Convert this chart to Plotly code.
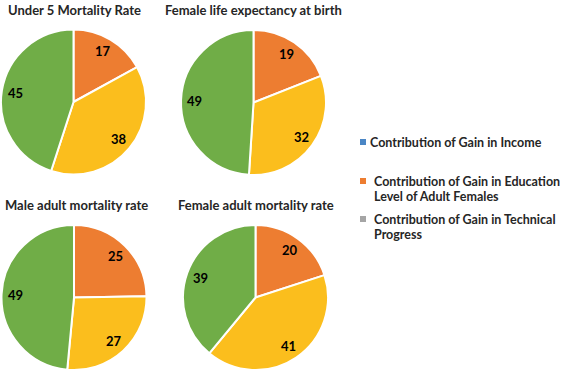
import math
import plotly.graph_objects as go

W, H = 562, 372

titles = ["Under 5 Mortality Rate", "Female life expectancy at birth",
          "Male adult mortality rate", "Female adult mortality rate"]
slice_names = ["Education", "Technical", "Income"]
under5 = [17, 38, 45]
female_life = [19, 32, 49]
male_adult = [25, 27, 49]
female_adult = [20, 41, 39]
series = [under5, female_life, male_adult, female_adult]
slice_colors = ["#ED7D31", "#FBBE1D", "#70AD47"]

legend_labels = ["Contribution of Gain in Income",
                 "Contribution of Gain in Education\nLevel of Adult Females",
                 "Contribution of Gain in Technical\nProgress"]
legend_colors = ["#4A86C5", "#ED7D31", "#A5A5A5"]

FONT = "Lato, 'Open Sans', sans-serif"

# pie boxes in pixels: (x0, x1, ytop, ybottom)
boxes = [(1, 146, 29.5, 174.5), (181, 326, 30, 175), (1.5, 146.5, 225, 370), (183, 328, 225, 370)]
title_pos = [(74, 10), (253, 10), (76, 205), (256, 205)]
LABEL_R = 0.81

fig = go.Figure()
ann = []
for vals, (x0, x1, yt, yb) in zip(series, boxes):
    fig.add_trace(go.Pie(
        labels=slice_names, values=vals, sort=False, direction="clockwise", rotation=0,
        marker=dict(colors=slice_colors, line=dict(color="white", width=2)),
        textinfo="none",
        domain=dict(x=[x0 / W, x1 / W], y=[1 - yb / H, 1 - yt / H]),
        showlegend=False, hoverinfo="label+value",
    ))
    # data labels placed like Excel: along the mid angle of each slice
    cx, cy, r = (x0 + x1) / 2, (yt + yb) / 2, (x1 - x0) / 2
    total = sum(vals)
    cum = 0
    for v in vals:
        mid = (cum + v / 2) / total * 2 * math.pi
        cum += v
        px = cx + LABEL_R * r * math.sin(mid)
        py = cy - LABEL_R * r * math.cos(mid)
        ann.append(dict(text=f"<b>{v}</b>", x=px / W, y=1 - py / H, xref="paper", yref="paper",
                        showarrow=False, xanchor="center", yanchor="middle",
                        font=dict(family=FONT, size=13, color="black")))

for t, (x, y) in zip(titles, title_pos):
    ann.append(dict(text=f"<b>{t}</b>", x=x / W, y=1 - y / H, xref="paper", yref="paper",
                    showarrow=False, xanchor="center", yanchor="middle",
                    font=dict(family=FONT, size=13, color="#262626")))

shapes = []
marker_pos = [(360, 142), (360, 181), (360, 219)]
text_x = [368, 372, 372]
LINE_H = 15.5
for lab, col, (mx, my), tx in zip(legend_labels, legend_colors, marker_pos, text_x):
    shapes.append(dict(type="rect", xref="paper", yref="paper",
                       x0=mx / W, x1=(mx + 6) / W, y0=1 - (my + 3) / H, y1=1 - (my - 3) / H,
                       fillcolor=col, line=dict(width=0)))
    for i, line in enumerate(lab.split("\n")):
        ann.append(dict(text=f"<b>{line}</b>", x=tx / W, y=1 - (my + i * LINE_H) / H,
                        xref="paper", yref="paper", showarrow=False,
                        xanchor="left", yanchor="middle", align="left",
                        font=dict(family=FONT, size=12.5, color="#262626")))

fig.update_layout(width=W, height=H, margin=dict(l=0, r=0, t=0, b=0),
                  paper_bgcolor="white", plot_bgcolor="white",
                  annotations=ann, shapes=shapes)
fig.write_html("out.html", config={"displayModeBar": False},
               post_script="document.body.style.margin='0';")
